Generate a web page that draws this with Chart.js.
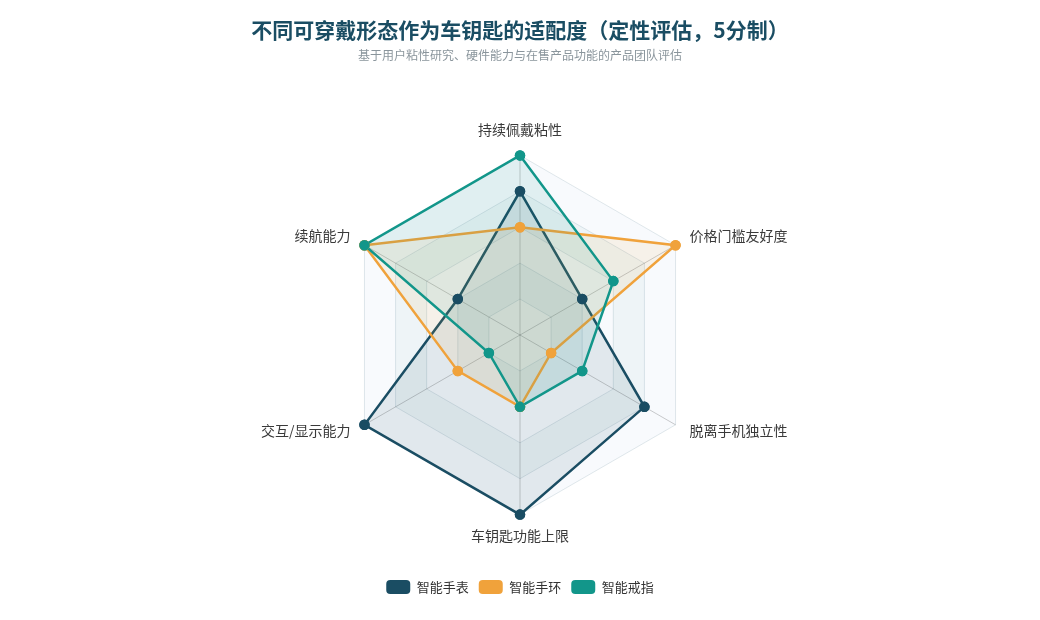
<!DOCTYPE html>
<html>
<head>
<meta charset="utf-8">
<script src="https://cdn.jsdelivr.net/npm/chart.js@4/dist/chart.umd.min.js"></script>
<style>
  html, body { margin: 0; padding: 0; background: #fff; }
  #wrap { width: 1040px; height: 620px; position: relative; }
</style>
</head>
<body>
<div id="wrap"><canvas id="chart"></canvas></div>
<script>
// Axis labels (clockwise from top)
const axes = ['持续佩戴粘性', '价格门槛友好度', '脱离手机独立性', '车钥匙功能上限', '交互/显示能力', '续航能力'];

// Scores on a 5-point scale
const watchScores = [4, 2, 4, 5, 5, 2];
const bandScores = [3, 5, 1, 2, 2, 5];
const ringScores = [5, 3, 2, 2, 1, 5];

const seriesNames = ['智能手表', '智能手环', '智能戒指'];

const FONT = '"Noto Sans CJK SC", "Noto Sans", sans-serif';
const LABEL_COLOR = '#3a3a3a';
const LABEL_GAP = 16;

// Alternating ring fills behind the grid (outer ring first)
const bandColors = ['#f8fafd', '#eef4f7'];

function series(label, data, color, fill, order) {
    return {
        label: label,
        data: data,
        order: order,
        borderColor: color,
        backgroundColor: fill,
        borderWidth: 2.5,
        pointBackgroundColor: color,
        pointBorderColor: color,
        pointRadius: 4,
        pointHoverRadius: 5,
        fill: true
    };
}

// Paint the rings between grid levels, using the radial scale's own geometry
const ringBands = {
    id: 'ringBands',
    beforeDraw(chart) {
        const scale = chart.scales.r;
        const ctx = chart.ctx;
        const n = chart.data.labels.length;
        ctx.save();
        for (let level = scale.max, k = 0; level > scale.min; level -= 1, k++) {
            ctx.beginPath();
            for (let i = 0; i < n; i++) {
                const p = scale.getPointPositionForValue(i, level);
                if (i === 0) ctx.moveTo(p.x, p.y);
                else ctx.lineTo(p.x, p.y);
            }
            ctx.closePath();
            ctx.fillStyle = bandColors[k % 2];
            ctx.fill();
        }
        ctx.restore();
    }
};

// Keep the markers on top of every filled area
const pointsOnTop = {
    id: 'pointsOnTop',
    afterDatasetsDraw(chart) {
        const ctx = chart.ctx;
        chart.data.datasets.forEach((ds, i) => {
            const meta = chart.getDatasetMeta(i);
            meta.data.forEach(pt => pt.draw(ctx, chart.chartArea));
        });
    }
};

// Axis names: side labels centred vertically on their spoke direction
const axisNames = {
    id: 'axisNames',
    afterDatasetsDraw(chart) {
        const scale = chart.scales.r;
        const ctx = chart.ctx;
        ctx.save();
        ctx.font = '14px ' + FONT;
        ctx.fillStyle = LABEL_COLOR;
        chart.data.labels.forEach((text, i) => {
            const angle = scale.getIndexAngle(i);
            const p = scale.getPointPosition(i, scale.drawingArea + LABEL_GAP);
            const sx = Math.sin(angle);
            const cy = Math.cos(angle);
            ctx.textAlign = sx > 0.01 ? 'left' : (sx < -0.01 ? 'right' : 'center');
            ctx.textBaseline = 'middle';
            let y = p.y - 2;
            if (cy > 0.99) y -= 8;
            else if (cy < -0.99) y += 7;
            ctx.fillText(text, p.x, y);
        });
        ctx.restore();
    }
};

const ctx = document.getElementById('chart').getContext('2d');
new Chart(ctx, {
    type: 'radar',
    data: {
        labels: axes,
        datasets: [
            series(seriesNames[0], watchScores, '#1a4d63', 'rgba(26, 77, 99, 0.10)', 3),
            series(seriesNames[1], bandScores, '#f0a23b', 'rgba(240, 162, 59, 0.10)', 2),
            series(seriesNames[2], ringScores, '#12968a', 'rgba(18, 150, 138, 0.10)', 1)
        ]
    },
    options: {
        responsive: true,
        maintainAspectRatio: false,
        animation: false,
        layout: {
            padding: { top: 0, bottom: 16, left: 0, right: 0 }
        },
        plugins: {
            title: {
                display: true,
                text: '不同可穿戴形态作为车钥匙的适配度（定性评估，5分制）',
                color: '#1a4d63',
                font: { family: FONT, size: 21, weight: 'bold' },
                padding: { top: 17, bottom: 6 }
            },
            subtitle: {
                display: true,
                text: '基于用户粘性研究、硬件能力与在售产品功能的产品团队评估',
                color: '#8a959c',
                font: { family: FONT, size: 12 },
                padding: { bottom: 62 }
            },
            legend: {
                position: 'bottom',
                // empty title used only as a spacer above the legend items
                title: {
                    display: true,
                    text: ' ',
                    font: { size: 10 },
                    padding: { top: 11, bottom: 0 }
                },
                labels: {
                    color: '#333',
                    boxWidth: 24,
                    boxHeight: 14,
                    useBorderRadius: true,
                    borderRadius: 4,
                    padding: 10,
                    font: { family: FONT, size: 13 },
                    sort: (a, b) => a.datasetIndex - b.datasetIndex,
                    generateLabels: function(chart) {
                        const items = Chart.defaults.plugins.legend.labels.generateLabels(chart);
                        items.forEach(item => {
                            item.fillStyle = item.strokeStyle;
                            item.lineWidth = 0;
                        });
                        return items;
                    }
                },
                onClick: null
            },
            tooltip: { enabled: false }
        },
        scales: {
            r: {
                min: 0,
                max: 5,
                beginAtZero: true,
                ticks: {
                    display: false,
                    stepSize: 1
                },
                grid: {
                    color: 'rgba(26, 77, 99, 0.13)'
                },
                angleLines: {
                    color: 'rgba(0, 0, 0, 0.2)'
                },
                // kept for layout only; the names are painted by axisNames
                pointLabels: {
                    color: 'rgba(0, 0, 0, 0)',
                    padding: 14,
                    font: { family: FONT, size: 14 }
                }
            }
        }
    },
    plugins: [ringBands, pointsOnTop, axisNames]
});
</script>
</body>
</html>
